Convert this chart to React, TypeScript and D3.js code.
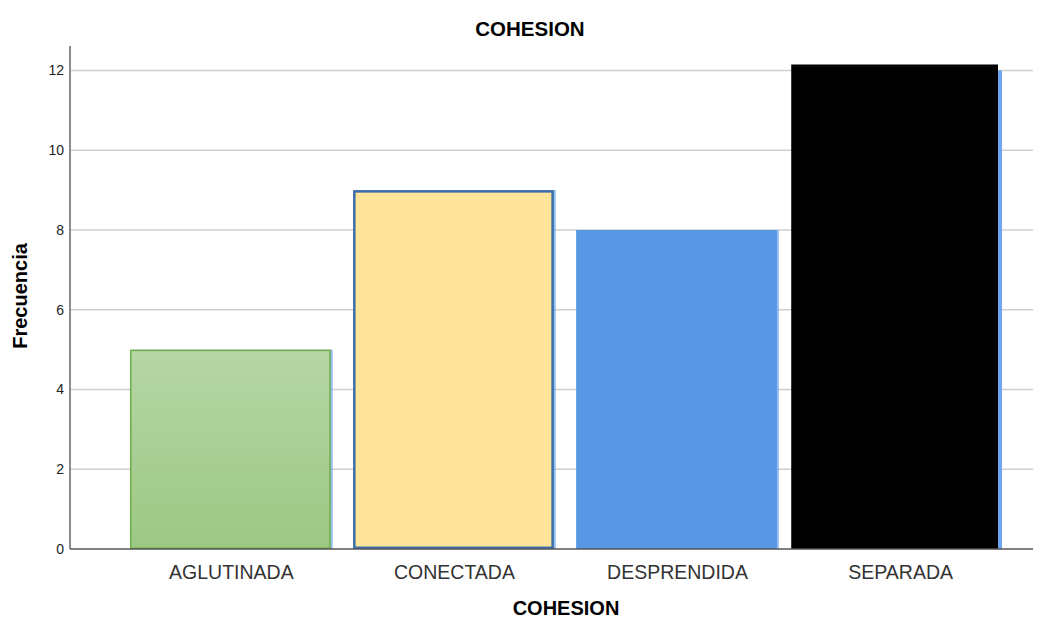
import * as d3 from "d3";
import { useEffect, useRef } from "react";

const categories = ["AGLUTINADA", "CONECTADA", "DESPRENDIDA", "SEPARADA"];
const frequencies = [5, 9, 8, 12];
const yTicks = [0, 2, 4, 6, 8, 10, 12];

export default function App() {
  const svgRef = useRef<SVGSVGElement>(null);

  useEffect(() => {
    if (!svgRef.current) return;
    const svg = d3.select(svgRef.current);
    svg.selectAll("*").remove();

    const width = 1047;
    const height = 619;
    const axisX = 70;
    const plotRight = 1033;
    const font = "'Liberation Sans', Arial, sans-serif";

    const x = d3
      .scaleBand<string>()
      .domain(categories)
      .range([130, 1000])
      .paddingInner(0.1)
      .paddingOuter(0);
    const y = d3.scaleLinear().domain([0, 12]).range([549, 70.5]);

    svg.attr("width", width).attr("height", height);

    // gradiente de la primera barra
    const defs = svg.append("defs");
    const grad = defs
      .append("linearGradient")
      .attr("id", "greenGrad")
      .attr("x1", 0)
      .attr("y1", 0)
      .attr("x2", 0)
      .attr("y2", 1);
    grad.append("stop").attr("offset", "0%").attr("stop-color", "#b6d6a6");
    grad.append("stop").attr("offset", "100%").attr("stop-color", "#9cc884");

    // líneas de cuadrícula
    svg
      .append("g")
      .selectAll("line")
      .data(yTicks.filter((t) => t > 0))
      .enter()
      .append("line")
      .attr("x1", axisX)
      .attr("x2", plotRight)
      .attr("y1", (d) => y(d))
      .attr("y2", (d) => y(d))
      .style("stroke", "#cfcfcf")
      .style("stroke-width", "1.5px");

    const fills = ["url(#greenGrad)", "#ffe599", "#5797e3", "#5797e3"];
    const strokes = ["#70ad47", "#3d6ea8", "none", "none"];

    const bars = svg.append("g");
    categories.forEach((c, i) => {
      const x0 = x(c)!;
      const bw = x.bandwidth();
      const top = y(frequencies[i]);
      // sombra azul a la derecha
      bars
        .append("rect")
        .attr("x", x0 + 2)
        .attr("y", top)
        .attr("width", bw)
        .attr("height", y(0) - top)
        .style("fill", "#6aa5ee")
        .style("opacity", i === 3 ? 1 : 0.7);
      if (i === 3) {
        bars
          .append("rect")
          .attr("x", x0 - 8)
          .attr("y", top - 6)
          .attr("width", bw + 6)
          .attr("height", y(0) - top + 6)
          .style("fill", "#000");
      } else {
        const sw = strokes[i] === "none" ? 0 : i === 1 ? 2.5 : 1.5;
        bars
          .append("rect")
          .attr("x", x0 + sw / 2)
          .attr("y", top + sw / 2)
          .attr("width", bw - sw)
          .attr("height", y(0) - top - sw)
          .style("fill", fills[i])
          .style("stroke", strokes[i])
          .style("stroke-width", sw);
      }
    });

    // ejes
    svg
      .append("line")
      .attr("x1", axisX)
      .attr("x2", axisX)
      .attr("y1", 46)
      .attr("y2", y(0))
      .style("stroke", "#8c8c8c")
      .style("stroke-width", "2px");
    svg
      .append("line")
      .attr("x1", axisX)
      .attr("x2", plotRight)
      .attr("y1", y(0))
      .attr("y2", y(0))
      .style("stroke", "#555")
      .style("stroke-width", "1.5px");

    svg
      .append("g")
      .selectAll("text")
      .data(yTicks)
      .enter()
      .append("text")
      .attr("x", axisX - 6)
      .attr("y", (d) => y(d))
      .attr("dy", "0.35em")
      .attr("text-anchor", "end")
      .style("font-family", font)
      .style("font-size", "14px")
      .style("fill", "#222")
      .text((d) => d);

    svg
      .append("g")
      .selectAll("text")
      .data(categories)
      .enter()
      .append("text")
      .attr("x", (d) => x(d)! + x.bandwidth() / 2 + 1)
      .attr("y", 579)
      .attr("text-anchor", "middle")
      .style("font-family", font)
      .style("font-size", "19.5px")
      .style("fill", "#333")
      .text((d) => d);

    // títulos
    svg
      .append("text")
      .attr("x", 530)
      .attr("y", 36)
      .attr("text-anchor", "middle")
      .style("font-family", font)
      .style("font-size", "20.5px")
      .style("font-weight", "bold")
      .text("COHESION");
    svg
      .append("text")
      .attr("x", 566)
      .attr("y", 615)
      .attr("text-anchor", "middle")
      .style("font-family", font)
      .style("font-size", "20px")
      .style("font-weight", "bold")
      .text("COHESION");
    svg
      .append("text")
      .attr("transform", "translate(27, 296) rotate(-90)")
      .attr("text-anchor", "middle")
      .style("font-family", font)
      .style("font-size", "20px")
      .style("font-weight", "bold")
      .text("Frecuencia");
  }, []);

  return (
    <svg
      ref={svgRef}
      style={{ position: "absolute", left: 0, top: 0, display: "block" }}
    ></svg>
  );
}
